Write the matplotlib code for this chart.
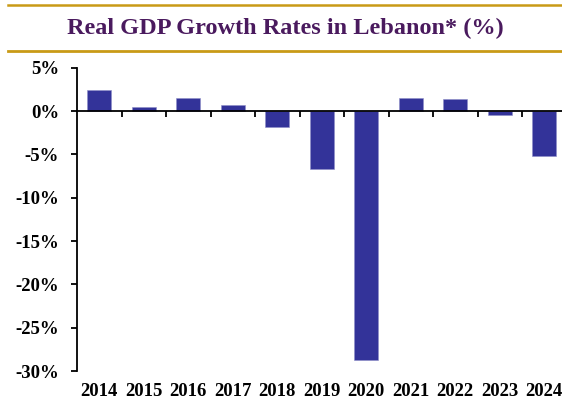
import matplotlib
matplotlib.use("Agg")
import numpy as np
from matplotlib import pyplot as plt
from matplotlib.lines import Line2D

plt.rcParams['font.family'] = ['Liberation Serif', 'DejaVu Serif']
plt.rcParams['font.weight'] = 'bold'

years = ["2014", "2015", "2016", "2017", "2018", "2019", "2020", "2021", "2022", "2023", "2024"]
growth = [2.4, 0.45, 1.55, 0.7, -1.9, -6.65, -28.7, 1.55, 1.35, -0.5, -5.2]
y_ticks = [5, 0, -5, -10, -15, -20, -25, -30]

W, H = 562, 399
fig = plt.figure(figsize=(W / 100, H / 100), dpi=100)

# plot area: y axis at x=77px, 5% at y=67.7px, -30% at y=371px
ax = fig.add_axes([77 / W, (H - 371) / H, 489.5 / W, (371 - 67.7) / H])

x = np.arange(len(years))
ax.bar(x, growth, width=0.53, color="#333399", edgecolor="#8f8fc8", linewidth=0.4, zorder=2)

ax.set_xlim(-0.5, len(years) - 0.5)
ax.set_ylim(-30, 5)
ax.set_yticks(y_ticks)
ax.set_yticklabels([f"{v}%" for v in y_ticks], fontsize=13.5, fontweight="bold")
ax.tick_params(axis="y", direction="out", length=4, width=1.3, pad=9)

# x axis line sits on zero, ticks mark the category boundaries
ax.spines["bottom"].set_position(("data", 0))
ax.spines["bottom"].set_linewidth(1.3)
ax.spines["left"].set_linewidth(1.3)
ax.spines["top"].set_visible(False)
ax.spines["right"].set_visible(False)
ax.set_xticks(np.arange(0.5, len(years) - 0.5, 1))
ax.set_xticklabels([])
ax.tick_params(axis="x", direction="out", length=4.5, width=1.3)

for i, yr in enumerate(years):
    ax.text(i, -0.069, yr, transform=ax.get_xaxis_transform(), ha="center", va="center",
            fontsize=13.5, fontweight="bold", clip_on=False)

# title band between two gold rules
gold = "#C99A16"
fig.add_artist(Line2D([8 / W, 1], [1 - 4.5 / H, 1 - 4.5 / H], color=gold, linewidth=1.8))
fig.add_artist(Line2D([8 / W, 1], [1 - 50.5 / H, 1 - 50.5 / H], color=gold, linewidth=2.0))
fig.text(285 / W, 1 - 28 / H, "Real GDP Growth Rates in Lebanon* (%)", ha="center", va="center",
         fontsize=17.5, fontweight="bold", color="#4A1A5E")

fig.savefig("out.png", dpi=100)
